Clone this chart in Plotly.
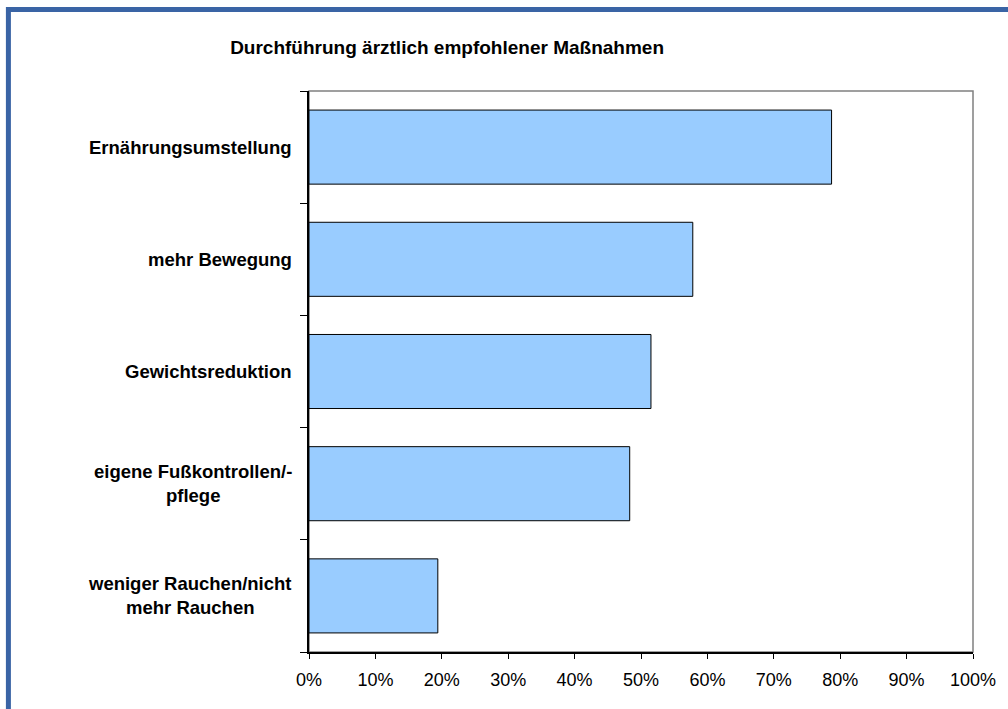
import plotly.graph_objects as go

title_text = "Durchführung ärztlich empfohlener Maßnahmen"
categories = [
    "Ernährungsumstellung",
    "mehr Bewegung",
    "Gewichtsreduktion",
    "eigene Fußkontrollen/-<br>pflege",
    "weniger Rauchen/nicht<br>mehr Rauchen",
]
values = [0.787, 0.578, 0.515, 0.483, 0.194]
x_ticks = [0, 0.1, 0.2, 0.3, 0.4, 0.5, 0.6, 0.7, 0.8, 0.9, 1.0]

FONT = "Liberation Sans, Arial, sans-serif"
W, H = 1008, 709
L, R, T, B = 309, 33, 91, 57
pw = W - L - R
ph = H - T - B

fig = go.Figure()
fig.add_trace(go.Bar(
    x=values,
    y=categories,
    orientation="h",
    marker=dict(color="#99CCFF", line=dict(color="#000000", width=1)),
    hoverinfo="x+y",
))

annotations = []
for c in categories:
    annotations.append(dict(
        x=0, xref="paper", y=c, yref="y",
        text="<b>" + c + "</b>", showarrow=False,
        xanchor="right", yanchor="middle", align="center",
        xshift=-15,
        font=dict(family=FONT, size=18.5, color="#000000"),
    ))

shapes = [
    # plot area border (gray)
    dict(type="rect", xref="paper", yref="paper", x0=0, x1=1, y0=0, y1=1,
         line=dict(color="#808080", width=1.5), layer="below"),
    # outer blue frame
    dict(type="rect", xref="paper", yref="paper",
         x0=(7.5 - L) / pw, x1=2.0, y0=-1.0, y1=(H - B - 9.5) / ph,
         line=dict(color="#3A64A5", width=5)),
]

fig.update_layout(
    width=W, height=H,
    margin=dict(l=L, r=R, t=T, b=B, pad=0),
    paper_bgcolor="#FFFFFF", plot_bgcolor="#FFFFFF",
    showlegend=False,
    bargap=0.34,
    title=dict(text="<b>" + title_text + "</b>", x=(447.5 - L) / pw, xref="paper",
               xanchor="center", y=1 - 47 / H, yref="container", yanchor="middle",
               font=dict(family=FONT, size=19, color="#000000")),
    xaxis=dict(range=[0, 1], tickvals=x_ticks, tickformat=".0%",
               showgrid=False, zeroline=False,
               showline=True, linecolor="#000000", linewidth=1.5,
               ticks="outside", ticklen=5, tickcolor="#000000", tickwidth=1,
               ticklabelstandoff=6,
               tickfont=dict(family=FONT, size=18, color="#000000")),
    yaxis=dict(categoryorder="array", categoryarray=categories[::-1],
               showgrid=False, zeroline=False,
               showline=True, linecolor="#000000", linewidth=1.5,
               ticks="outside", ticklen=7, tickcolor="#000000", tickwidth=1,
               tickson="boundaries", showticklabels=False),
    annotations=annotations,
    shapes=shapes,
)

fig.write_html("out.html",
               config={"displayModeBar": False},
               post_script="document.body.style.margin='0';document.body.style.padding='0';")
